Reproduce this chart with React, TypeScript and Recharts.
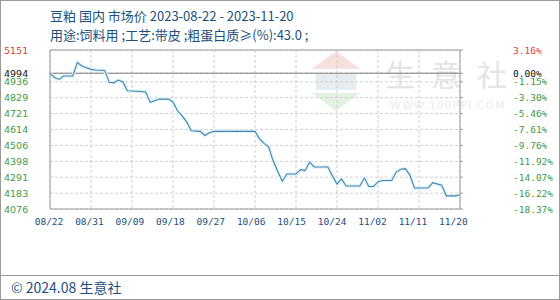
import React from 'react';
import { LineChart, Line, XAxis, YAxis, CartesianGrid, ReferenceLine } from 'recharts';

// Price keypoints (date MM/DD in 2023, price in yuan/ton)
const dates = ['08/22','08/23','08/24','08/25','08/27','08/28','08/29','08/30','08/31','09/01','09/03','09/04','09/05','09/06','09/07','09/08','09/10','09/12','09/13','09/15','09/17','09/18','09/19','09/20','09/21','09/22','09/24','09/25','09/26','09/27','10/06','10/07','10/08','10/09','10/10','10/11','10/12','10/13','10/15','10/16','10/17','10/18','10/19','10/22','10/23','10/24','10/25','10/26','10/29','10/30','10/31','11/01','11/02','11/03','11/05','11/06','11/07','11/08','11/09','11/10','11/13','11/14','11/16','11/17','11/19','11/20'];
const prices = [4994,4965,4952,4975,4975,5066,5043,5031,5020,5016,5013,4933,4929,4948,4935,4876,4872,4867,4797,4819,4819,4800,4740,4705,4665,4605,4601,4573,4592,4601,4601,4550,4520,4495,4400,4330,4264,4313,4313,4342,4336,4393,4360,4360,4300,4245,4279,4231,4231,4285,4228,4228,4260,4269,4269,4326,4345,4349,4305,4218,4218,4254,4237,4165,4165,4172];

const xTickLabels = ['08/22','08/31','09/09','09/18','09/27','10/06','10/15','10/24','11/02','11/11','11/20'];
const leftTicks = [4076,4183,4291,4398,4506,4614,4721,4829,4936,4994,5151];
const rightLabels = ['-18.37%','-16.22%','-14.07%','-11.92%','-9.76%','-7.61%','-5.46%','-3.30%','-1.15%','0.00%','3.16%'];
const baseValue = 4994;

const dayIndex = (md: string) => {
  const [m, d] = md.split('/').map(Number);
  return Math.round((Date.UTC(2023, m - 1, d) - Date.UTC(2023, 7, 22)) / 86400000);
};
const xTicks = xTickLabels.map(dayIndex);
const data = dates.map((d, i) => ({ day: dayIndex(d), price: prices[i] }));

const RED = '#d8413f';
const GREEN = '#3f9a3f';
const BLUE_TXT = '#1d4f7c';

const tickColor = (i: number) => (i === leftTicks.length - 1 ? RED : leftTicks[i] === baseValue ? '#111' : GREEN);

const LeftTick = (props: any) => {
  const { y, payload, index } = props;
  return (
    <text x={4} y={y} dy={3.5} textAnchor="start" fontFamily="DejaVu Sans" fontSize={9.5} fill={tickColor(index)}>
      {String(payload.value)}
    </text>
  );
};

const RightTick = (props: any) => {
  const { y, index } = props;
  return (
    <text x={513} y={y} dy={3.5} textAnchor="start" fontFamily="DejaVu Sans Mono" fontSize={9.5} fill={tickColor(index)}>
      {rightLabels[index]}
    </text>
  );
};

const XTick = (props: any) => {
  const { x, y, index } = props;
  const lx = 49 + (x - 50) * (453 / 459.3);
  return (
    <text x={lx} y={y} dy={8} textAnchor="middle" fontFamily="DejaVu Sans Mono" fontSize={9.5} fill={BLUE_TXT}>
      {xTickLabels[index]}
    </text>
  );
};

export default function App() {
  return (
    <div style={{ position: 'absolute', left: 0, top: 0, width: 560, height: 300, background: '#fff', overflow: 'hidden', boxSizing: 'border-box', border: '1px solid #9a9a9a' }}>
      <div style={{ position: 'absolute', left: 49, top: 5, fontFamily: '"Noto Sans CJK SC", sans-serif', fontSize: 13, lineHeight: '19px', color: BLUE_TXT, whiteSpace: 'nowrap' }}>
        <div>豆粕 国内 市场价 2023-08-22 - 2023-11-20</div>
        <div>用途:饲料用 ;工艺:带皮 ;粗蛋白质≥(%):43.0 ;</div>
      </div>
      {/* watermark */}
      <svg width={560} height={300} style={{ position: 'absolute', left: -1, top: -1 }}>
        <polygon points="336,51 312,69 360,69" fill="#f7e0e0" />
        <rect x={316} y={74} width={40} height={16} fill="#e6ecf0" />
        <polygon points="312,93 360,93 336,111" fill="#e2f1e2" />
        <text x={385} y={86} fontFamily='"Noto Sans CJK SC", sans-serif' fontSize={30} fill="#e4e4e4" letterSpacing={16}>生意社</text>
        <text x={390} y={109} fontFamily="DejaVu Sans" fontSize={11} fill="#ececec" letterSpacing={1}>WWW.100PPI.COM</text>
      </svg>
      <div style={{ position: 'absolute', left: -1, top: -1 }}>
        <LineChart width={560} height={300} data={data} margin={{ top: 50, right: 50, bottom: 61, left: 0 }}>
          <CartesianGrid yAxisId="left" stroke="#cfcfcf" strokeDasharray="3 2" />
          <XAxis dataKey="day" type="number" domain={[0, 90]} ticks={xTicks} interval={0} tick={<XTick />} tickLine={false} axisLine={{ stroke: '#9a9a9a' }} />
          <YAxis yAxisId="left" domain={[4076, 5151]} ticks={leftTicks} interval={0} width={50} tick={<LeftTick />} tickLine={false} axisLine={{ stroke: '#9a9a9a' }} allowDataOverflow />
          <YAxis yAxisId="right" orientation="right" domain={[4076, 5151]} ticks={leftTicks} interval={0} width={50} tick={<RightTick />} tickLine={{ stroke: '#9a9a9a' }} tickSize={3} axisLine={{ stroke: '#9a9a9a' }} allowDataOverflow />
          <ReferenceLine yAxisId="left" y={5151} stroke="#9a9a9a" />
          <ReferenceLine yAxisId="left" y={baseValue} stroke="#7d7d7d" />
          <Line yAxisId="left" dataKey="price" type="linear" stroke="#e0f4fb" strokeWidth={3.5} dot={false} isAnimationActive={false} />
          <Line yAxisId="left" dataKey="price" type="linear" stroke="#4584ad" strokeWidth={1.1} dot={false} isAnimationActive={false} />
        </LineChart>
      </div>
      <div style={{ position: 'absolute', left: 0, top: 274, width: 560, borderTop: '1px solid #9a9a9a' }} />
      <div style={{ position: 'absolute', left: 10, top: 277, fontFamily: '"Noto Sans CJK SC", sans-serif', fontSize: 14, lineHeight: '18px', color: BLUE_TXT, whiteSpace: 'nowrap' }}>
        © 2024.08 生意社
      </div>
    </div>
  );
}
